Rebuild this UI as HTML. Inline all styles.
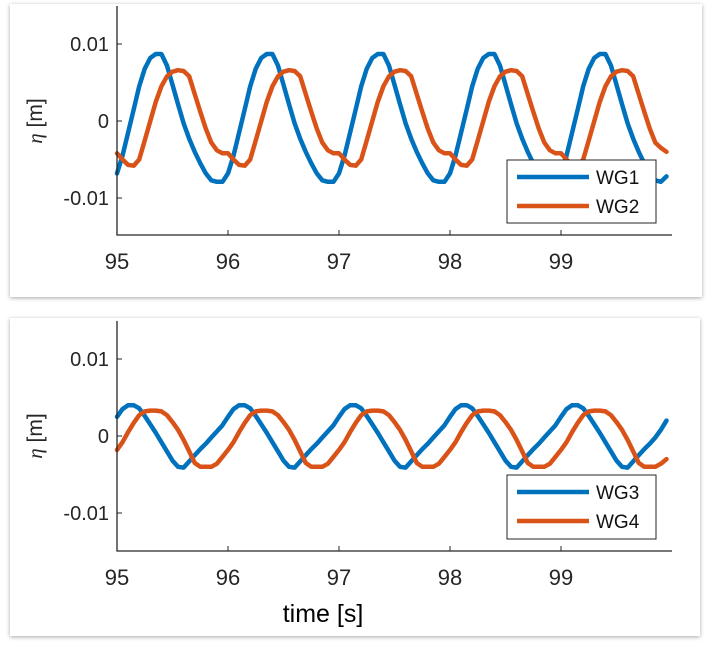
<!DOCTYPE html>
<html><head><meta charset="utf-8"><style>
body{margin:0;background:#fff;width:710px;height:649px;overflow:hidden;font-family:"Liberation Sans",sans-serif}
.card{position:absolute;background:#fff;box-shadow:0 1px 4px rgba(0,0,0,0.35)}
svg{position:absolute;left:0;top:0}
</style></head><body>
<div class="card" style="left:10px;top:4px;width:692px;height:293px"></div>
<div class="card" style="left:10px;top:318px;width:690px;height:318px"></div>
<svg id="chart" width="710" height="649"></svg>
<script>
const xTicks=[95,96,97,98,99];
const yTicks=[0.01,0,-0.01];
const yTickLabels=["0.01","0","-0.01"];
const tStart=95.0, tStep=0.05;
const wg1=[-0.0068,-0.0045,-0.0015,0.0015,0.0045,0.0068,0.0082,0.0087,0.0087,0.0072,0.0047,0.0022,-0.0003,-0.0023,-0.0040,-0.0055,-0.0068,-0.0077,-0.0079,-0.0079,
-0.0068,-0.0045,-0.0015,0.0015,0.0045,0.0068,0.0082,0.0087,0.0087,0.0072,0.0047,0.0022,-0.0003,-0.0023,-0.0040,-0.0055,-0.0068,-0.0077,-0.0079,-0.0079,
-0.0068,-0.0045,-0.0015,0.0015,0.0045,0.0068,0.0082,0.0087,0.0087,0.0072,0.0047,0.0022,-0.0003,-0.0023,-0.0040,-0.0055,-0.0068,-0.0077,-0.0079,-0.0079,
-0.0068,-0.0045,-0.0015,0.0015,0.0045,0.0068,0.0082,0.0087,0.0087,0.0072,0.0047,0.0022,-0.0003,-0.0023,-0.0040,-0.0055,-0.0068,-0.0077,-0.0079,-0.0079,
-0.0068,-0.0045,-0.0015,0.0015,0.0045,0.0068,0.0082,0.0087,0.0087,0.0072,0.0047,0.0022,-0.0003,-0.0023,-0.0040,-0.0055,-0.0068,-0.0077,-0.0079,-0.0072];
const wg2=[-0.0042,-0.0050,-0.0057,-0.0058,-0.0050,-0.0025,0.0000,0.0025,0.0045,0.0058,0.0064,0.0066,0.0065,0.0058,0.0035,0.0012,-0.0010,-0.0028,-0.0038,-0.0042,
-0.0042,-0.0050,-0.0057,-0.0058,-0.0050,-0.0025,0.0000,0.0025,0.0045,0.0058,0.0064,0.0066,0.0065,0.0058,0.0035,0.0012,-0.0010,-0.0028,-0.0038,-0.0042,
-0.0042,-0.0050,-0.0057,-0.0058,-0.0050,-0.0025,0.0000,0.0025,0.0045,0.0058,0.0064,0.0066,0.0065,0.0058,0.0035,0.0012,-0.0010,-0.0028,-0.0038,-0.0042,
-0.0042,-0.0050,-0.0057,-0.0058,-0.0050,-0.0025,0.0000,0.0025,0.0045,0.0058,0.0064,0.0066,0.0065,0.0058,0.0035,0.0012,-0.0010,-0.0028,-0.0038,-0.0042,
-0.0042,-0.0050,-0.0057,-0.0058,-0.0050,-0.0025,0.0000,0.0025,0.0045,0.0058,0.0064,0.0066,0.0065,0.0058,0.0035,0.0012,-0.0010,-0.0028,-0.0035,-0.0040];
const wg3=[0.0025,0.0035,0.0040,0.0040,0.0036,0.0026,0.0015,0.0004,-0.0008,-0.0020,-0.0032,-0.0040,-0.0041,-0.0033,-0.0025,-0.0017,-0.0010,-0.0002,0.0006,0.0014,
0.0025,0.0035,0.0040,0.0040,0.0036,0.0026,0.0015,0.0004,-0.0008,-0.0020,-0.0032,-0.0040,-0.0041,-0.0033,-0.0025,-0.0017,-0.0010,-0.0002,0.0006,0.0014,
0.0025,0.0035,0.0040,0.0040,0.0036,0.0026,0.0015,0.0004,-0.0008,-0.0020,-0.0032,-0.0040,-0.0041,-0.0033,-0.0025,-0.0017,-0.0010,-0.0002,0.0006,0.0014,
0.0025,0.0035,0.0040,0.0040,0.0036,0.0026,0.0015,0.0004,-0.0008,-0.0020,-0.0032,-0.0040,-0.0041,-0.0033,-0.0025,-0.0017,-0.0010,-0.0002,0.0006,0.0014,
0.0025,0.0035,0.0040,0.0040,0.0036,0.0026,0.0015,0.0004,-0.0008,-0.0020,-0.0032,-0.0040,-0.0041,-0.0033,-0.0025,-0.0017,-0.0010,-0.0002,0.0008,0.0020];
const wg4=[-0.0018,-0.0008,0.0005,0.0017,0.0027,0.0032,0.0033,0.0033,0.0032,0.0027,0.0018,0.0008,-0.0005,-0.0020,-0.0035,-0.0040,-0.0040,-0.0040,-0.0036,-0.0027,
-0.0018,-0.0008,0.0005,0.0017,0.0027,0.0032,0.0033,0.0033,0.0032,0.0027,0.0018,0.0008,-0.0005,-0.0020,-0.0035,-0.0040,-0.0040,-0.0040,-0.0036,-0.0027,
-0.0018,-0.0008,0.0005,0.0017,0.0027,0.0032,0.0033,0.0033,0.0032,0.0027,0.0018,0.0008,-0.0005,-0.0020,-0.0035,-0.0040,-0.0040,-0.0040,-0.0036,-0.0027,
-0.0018,-0.0008,0.0005,0.0017,0.0027,0.0032,0.0033,0.0033,0.0032,0.0027,0.0018,0.0008,-0.0005,-0.0020,-0.0035,-0.0040,-0.0040,-0.0040,-0.0036,-0.0027,
-0.0018,-0.0008,0.0005,0.0017,0.0027,0.0032,0.0033,0.0033,0.0032,0.0027,0.0018,0.0008,-0.0005,-0.0020,-0.0035,-0.0040,-0.0040,-0.0040,-0.0036,-0.0030];
const svg=document.getElementById('chart');
const NS='http://www.w3.org/2000/svg';
function mk(tag,attrs,parent){const e=document.createElementNS(NS,tag);for(const k in attrs)e.setAttribute(k,attrs[k]);(parent||svg).appendChild(e);return e;}
const BLUE='#0072BD',ORANGE='#D95319';
function panel(p,s1,s2,n1,n2,leg){
  const xs=v=>117+(v-95)*111;
  const ys=v=>p.y0-v*7700;
  const g=mk('g',{});
  
  
  [[s1,BLUE,n1],[s2,ORANGE,n2]].forEach(([s,c,n])=>{
    const d=s.map((v,i)=>(i?'L':'M')+xs(tStart+i*tStep).toFixed(1)+','+ys(v).toFixed(1)).join('');
    const path=mk('path',{d:d,fill:'none',stroke:c,'stroke-width':4.5,'stroke-linejoin':'round','stroke-linecap':'round'},g);
    
    
  });
  const ax=mk('path',{d:`M117,${p.top}V${p.bot}H672`,fill:'none',stroke:'#262626','stroke-width':1.3},g);
  
  
  xTicks.forEach(t=>{
    mk('line',{x1:xs(t),x2:xs(t),y1:p.bot,y2:p.bot-5,stroke:'#262626'},g);
    const tx=mk('text',{x:xs(t),y:p.bot+34,'text-anchor':'middle','font-size':22,fill:'#262626'},g);
    tx.textContent=t;
    
    
  });
  yTicks.forEach((t,i)=>{
    mk('line',{x1:117,x2:122,y1:ys(t),y2:ys(t),stroke:'#262626'},g);
    const tx=mk('text',{x:109,y:ys(t)+7,'text-anchor':'end','font-size':20,fill:'#262626'},g);
    tx.textContent=yTickLabels[i];
    
    
  });
  const yl=mk('text',{x:0,y:0,transform:`translate(42,${p.y0}) rotate(-90)`,'text-anchor':'middle','font-size':21,fill:'#262626'},g);
  yl.innerHTML='<tspan font-family="Liberation Serif" font-style="italic">η</tspan> [m]';
  
  
  const lg=mk('g',{},g);
  
  
  mk('rect',{x:leg.x,y:leg.y,width:leg.w,height:leg.h,fill:'#fff',stroke:'#262626','stroke-width':1},lg);
  [[BLUE,n1],[ORANGE,n2]].forEach(([c,n],i)=>{
    const yy=leg.y+17+i*29;
    mk('line',{x1:leg.x+10,x2:leg.x+82,y1:yy,y2:yy,stroke:c,'stroke-width':4.5},lg);
    const t=mk('text',{x:leg.x+89,y:yy+7,'font-size':19,fill:'#111'},lg);
    t.textContent=n;
    
    
  });
}
panel({name:'top-plot',y0:121,top:6,bot:235},wg1,wg2,'WG1','WG2',{x:507,y:160,w:149,h:63});
panel({name:'bottom-plot',y0:436,top:321,bot:551},wg3,wg4,'WG3','WG4',{x:507,y:475,w:149,h:64});
const xl=mk('text',{x:323,y:622,'text-anchor':'middle','font-size':25,fill:'#000'});
xl.textContent='time [s]';


</script>
</body></html>
